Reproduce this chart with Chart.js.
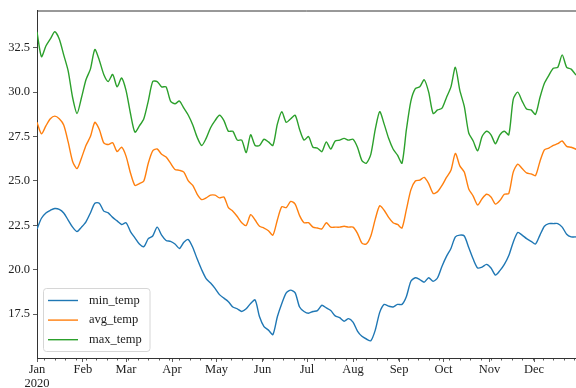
<!DOCTYPE html>
<html>
<head>
<meta charset="utf-8">
<script src="https://cdn.jsdelivr.net/npm/chart.js@4/dist/chart.umd.min.js"></script>
<style>
  html, body { margin: 0; padding: 0; background: #fff; }
  #wrap { width: 576px; height: 388px; }
</style>
</head>
<body>
<div id="wrap"><canvas id="c" width="576" height="388"></canvas></div>
<script>
// Day of year (0 = 1 Jan 2020) for each sample
const days = [
  0, 3, 6, 9, 12, 15, 18, 21, 24, 27,
  30, 33, 36, 39, 42, 45, 48, 51, 54, 57,
  60, 63, 66, 69, 72, 75, 78, 81, 84, 87,
  90, 93, 96, 99, 102, 105, 108, 111, 114, 117,
  120, 123, 126, 129, 132, 135, 138, 141, 144, 147,
  150, 153, 156, 159, 162, 165, 168, 171, 174, 177,
  180, 183, 186, 189, 192, 195, 198, 201, 204, 207,
  210, 213, 216, 219, 222, 225, 228, 231, 234, 237,
  240, 243, 246, 249, 252, 255, 258, 261, 264, 267,
  270, 273, 276, 279, 282, 285, 288, 291, 294, 297,
  300, 303, 306, 309, 312, 315, 318, 321, 324, 327,
  330, 333, 336, 339, 342, 345, 348, 351, 354, 357,
  360, 363, 365
];

const minTemp = [
  22.3, 22.9, 23.2, 23.35, 23.45, 23.4, 23.2, 22.8, 22.4, 22.15,
  22.4, 22.7, 23.2, 23.75, 23.75, 23.3, 23.2, 22.95, 22.75, 22.55,
  22.65, 22.15, 21.8, 21.45, 21.3, 21.75, 21.9, 22.4, 21.95, 21.65,
  21.6, 21.45, 21.2, 21.55, 21.7, 21.25, 20.6, 20.0, 19.5, 19.25,
  18.95, 18.6, 18.4, 18.2, 17.9, 17.8, 17.65, 17.8, 18.1, 18.3,
  17.35, 16.8, 16.6, 16.35, 17.35, 18.1, 18.7, 18.85, 18.7, 17.9,
  17.65, 17.55, 17.65, 17.7, 18.0, 17.85, 17.7, 17.4, 17.3, 17.1,
  17.25, 17.05, 16.55, 16.25, 16.1, 16.0, 16.6, 17.6, 18.05, 17.95,
  17.9, 18.05, 18.05, 18.5, 19.35, 19.55, 19.45, 19.3, 19.55, 19.35,
  19.55, 20.2, 20.75, 21.2, 21.85, 21.95, 21.9, 21.25, 20.6, 20.1,
  20.15, 20.3, 20.1, 19.7, 19.95, 20.3, 20.8, 21.55, 22.1, 21.95,
  21.75, 21.6, 21.45, 21.95, 22.45, 22.6, 22.6, 22.6, 22.4, 22.0,
  21.85, 21.85, 21.8
];

const avgTemp = [
  28.3, 27.65, 28.1, 28.5, 28.65, 28.5, 28.15, 27.2, 26.1, 25.7,
  26.3, 27.0, 27.5, 28.3, 27.9, 27.15, 27.05, 27.15, 26.65, 26.9,
  26.4, 25.45, 24.75, 24.85, 25.0, 26.0, 26.7, 26.8, 26.5, 26.35,
  26.0, 25.65, 25.6, 25.5, 25.0, 24.75, 24.25, 23.95, 24.05, 24.2,
  24.2, 24.05, 24.1, 23.5, 23.3, 23.0, 22.65, 22.5, 23.1, 22.8,
  22.45, 22.35, 22.2, 21.95, 22.8, 23.55, 23.5, 23.85, 23.7, 23.05,
  22.65, 22.65, 22.4, 22.35, 22.3, 22.65, 22.4, 22.4, 22.4, 22.45,
  22.4, 22.4, 22.05, 21.5, 21.45, 21.9, 22.85, 23.6, 23.35, 22.95,
  22.65, 22.55, 22.35, 23.4, 24.5, 25.0, 25.05, 25.2, 24.85, 24.3,
  24.4, 24.75, 25.2, 25.6, 26.55, 25.85, 25.5, 24.55, 24.15, 23.65,
  24.0, 24.25, 24.1, 23.7, 23.9, 24.25, 24.3, 25.5, 25.95, 25.7,
  25.45, 25.4, 25.3, 26.1, 26.75, 26.85, 27.0, 27.1, 27.25, 26.95,
  26.9, 26.8, 26.7
];

const maxTemp = [
  33.4, 32.0, 32.6, 33.0, 33.4, 33.0, 32.1, 31.2, 29.7, 28.8,
  29.7, 30.7, 31.3, 32.4, 31.8, 31.0, 30.6, 31.0, 30.3, 30.8,
  30.1, 28.8, 27.75, 28.1, 28.5, 29.5, 30.6, 30.6, 30.3, 30.3,
  29.5, 29.35, 29.5, 29.1, 28.7, 28.15, 27.45, 27.0, 27.4, 28.0,
  28.4, 28.7, 28.4, 27.8, 27.8, 27.3, 27.3, 26.6, 27.6, 27.0,
  27.0, 27.35, 27.2, 27.0, 28.2, 28.9, 28.3, 28.5, 28.7, 27.9,
  27.3, 27.5, 26.9, 26.85, 26.65, 27.2, 26.8, 27.25, 27.3, 27.4,
  27.3, 27.35, 26.9, 26.15, 26.0, 26.5, 27.9, 28.9, 28.2, 27.4,
  26.8, 26.45, 26.0, 27.9, 29.5, 30.2, 30.3, 30.7, 30.0, 28.8,
  29.0, 29.1, 29.7, 30.3, 31.4, 30.1, 29.2, 27.7, 27.25, 26.7,
  27.5, 27.8, 27.6, 27.1, 27.6, 27.8, 27.6, 29.6, 30.0, 29.5,
  29.05, 29.0, 28.75, 29.7, 30.5, 30.95, 31.35, 31.4, 32.1, 31.4,
  31.3, 31.0, 30.9
];

// Month boundaries (day of year, leap year 2020) and their labels
const monthStarts = [0, 31, 60, 91, 121, 152, 182, 213, 244, 274, 305, 335];
const monthLabels = ['Jan', 'Feb', 'Mar', 'Apr', 'May', 'Jun', 'Jul', 'Aug', 'Sep', 'Oct', 'Nov', 'Dec'];
const yearLabel = '2020';
const yTicks = [17.5, 20.0, 22.5, 25.0, 27.5, 30.0, 32.5];

const FONT = "'Liberation Serif', 'Times New Roman', serif";
const AXIS = '#333';

const series = [
  { label: 'min_temp', values: minTemp, color: '#1f77b4' },
  { label: 'avg_temp', values: avgTemp, color: '#ff7f0e' },
  { label: 'max_temp', values: maxTemp, color: '#2ca02c' }
];

// Top frame line plus weekly minor ticks (Mondays) under the x axis
const framePlugin = {
  id: 'frame',
  afterDraw(chart) {
    const { ctx, chartArea: a, scales: { x } } = chart;
    ctx.save();
    ctx.strokeStyle = AXIS;
    ctx.lineWidth = 1;
    ctx.beginPath();
    ctx.moveTo(a.left, a.top + 0.5);
    ctx.lineTo(a.right, a.top + 0.5);
    ctx.stroke();
    ctx.lineWidth = 0.8;
    for (let d = 5; d <= 365; d += 7) {
      const px = Math.round(x.getPixelForValue(d)) + 0.5;
      if (px > a.right) break;
      ctx.beginPath();
      ctx.moveTo(px, a.bottom);
      ctx.lineTo(px, a.bottom + 2.5);
      ctx.stroke();
    }
    ctx.restore();
  }
};

// Boxed legend in the lower-left corner of the plot
const legendPlugin = {
  id: 'boxLegend',
  afterDraw(chart) {
    const { ctx } = chart;
    const bx = 43.5, by = 288.5, bw = 106.5, bh = 63, r = 3;
    ctx.save();
    ctx.beginPath();
    ctx.moveTo(bx + r, by);
    ctx.lineTo(bx + bw - r, by);
    ctx.quadraticCurveTo(bx + bw, by, bx + bw, by + r);
    ctx.lineTo(bx + bw, by + bh - r);
    ctx.quadraticCurveTo(bx + bw, by + bh, bx + bw - r, by + bh);
    ctx.lineTo(bx + r, by + bh);
    ctx.quadraticCurveTo(bx, by + bh, bx, by + bh - r);
    ctx.lineTo(bx, by + r);
    ctx.quadraticCurveTo(bx, by, bx + r, by);
    ctx.closePath();
    ctx.fillStyle = 'rgba(255,255,255,0.8)';
    ctx.fill();
    ctx.strokeStyle = '#d6d6d6';
    ctx.lineWidth = 1;
    ctx.stroke();
    chart.data.datasets.forEach((ds, i) => {
      const y = 300.5 + i * 19.6;
      ctx.strokeStyle = ds.borderColor;
      ctx.lineWidth = ds.borderWidth;
      ctx.beginPath();
      ctx.moveTo(48, y);
      ctx.lineTo(78, y);
      ctx.stroke();
      ctx.fillStyle = '#222';
      ctx.font = '12.5px ' + FONT;
      ctx.textBaseline = 'middle';
      ctx.textAlign = 'left';
      ctx.fillText(ds.label, 89, y);
    });
    ctx.restore();
  }
};

new Chart(document.getElementById('c'), {
  type: 'line',
  data: {
    datasets: series.map(s => ({
      label: s.label,
      data: days.map((d, i) => ({ x: d, y: s.values[i] })),
      borderColor: s.color,
      backgroundColor: s.color,
      borderWidth: 1.4,
      pointRadius: 0,
      tension: 0.25,
      fill: false
    }))
  },
  options: {
    responsive: false,
    animation: false,
    layout: { padding: { top: 7, right: 0, left: 0, bottom: 0 } },
    plugins: { legend: { display: false }, tooltip: { enabled: false } },
    scales: {
      x: {
        type: 'linear',
        min: 0,
        max: 363.3,
        afterBuildTicks: s => { s.ticks = monthStarts.map(v => ({ value: v })); },
        afterFit: s => { s.height = 30; },
        ticks: {
          autoSkip: false,
          maxRotation: 0,
          padding: 1,
          color: '#222',
          font: { family: FONT, size: 12.5, lineHeight: 1.1 },
          callback: v => {
            const i = monthStarts.indexOf(v);
            if (i < 0) return '';
            return i === 0 ? [monthLabels[0], yearLabel] : monthLabels[i];
          }
        },
        grid: { drawOnChartArea: false, drawTicks: true, tickLength: 4, tickColor: AXIS, tickWidth: 0.8 },
        border: { display: true, color: AXIS, width: 1 }
      },
      y: {
        min: 15.03,
        max: 34.6,
        afterBuildTicks: s => { s.ticks = yTicks.map(v => ({ value: v })); },
        afterFit: s => { s.width = 37; },
        ticks: {
          padding: 3,
          color: '#222',
          font: { family: FONT, size: 12.5 },
          callback: v => Number(v).toFixed(1)
        },
        grid: { drawOnChartArea: false, drawTicks: true, tickLength: 4, tickColor: AXIS, tickWidth: 0.8 },
        border: { display: true, color: AXIS, width: 1 }
      }
    }
  },
  plugins: [framePlugin, legendPlugin]
});
</script>
</body>
</html>
